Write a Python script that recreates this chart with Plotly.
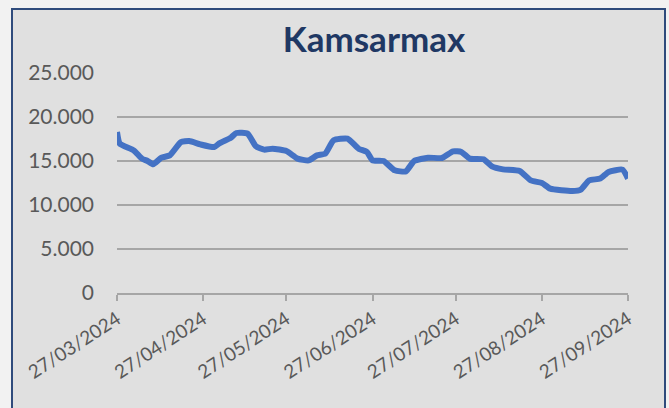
import plotly.graph_objects as go

dates = ["2024-03-27", "2024-03-28", "2024-04-02", "2024-04-05", "2024-04-07", "2024-04-09",
         "2024-04-12", "2024-04-15", "2024-04-19", "2024-04-22", "2024-04-26", "2024-05-01",
         "2024-05-03", "2024-05-07", "2024-05-09", "2024-05-13", "2024-05-16", "2024-05-19",
         "2024-05-22", "2024-05-27", "2024-05-31", "2024-06-04", "2024-06-07", "2024-06-10",
         "2024-06-13", "2024-06-18", "2024-06-22", "2024-06-25", "2024-06-27", "2024-07-01",
         "2024-07-05", "2024-07-09", "2024-07-12", "2024-07-17", "2024-07-22", "2024-07-26",
         "2024-07-29", "2024-08-01", "2024-08-06", "2024-08-09", "2024-08-13", "2024-08-19",
         "2024-08-23", "2024-08-27", "2024-08-30", "2024-09-07", "2024-09-10", "2024-09-13",
         "2024-09-17", "2024-09-20", "2024-09-25", "2024-09-27"]
values = [18300, 16970, 16210, 15270, 15000, 14620,
          15380, 15640, 17150, 17270, 16890, 16590,
          17040, 17650, 18180, 18110, 16670, 16290,
          16400, 16130, 15270, 15070, 15640, 15840,
          17350, 17540, 16400, 16020, 15070, 15000,
          13940, 13820, 15000, 15380, 15340, 16100,
          16020, 15270, 15190, 14390, 14050, 13860,
          12800, 12500, 11860, 11590, 11750, 12800,
          13000, 13750, 14020, 13000]

tick_dates = ["2024-03-27", "2024-04-27", "2024-05-27", "2024-06-27",
              "2024-07-27", "2024-08-27", "2024-09-27"]
tick_labels = ["27/03/2024", "27/04/2024", "27/05/2024", "27/06/2024",
               "27/07/2024", "27/08/2024", "27/09/2024"]
y_ticks = [0, 5000, 10000, 15000, 20000, 25000]
title_text = "Kamsarmax"

W, H = 669, 408
ml, mr, mt, mb = 117, 41, 73, 115
pw, ph = W - ml - mr, H - mt - mb


def px_x(p):
    return (p - ml) / pw


def px_y(p):
    return (H - mb - p) / ph


fig = go.Figure()
fig.add_trace(go.Scatter(
    x=dates, y=values, mode="lines",
    line=dict(color="#4472C4", width=6, shape="spline", smoothing=0.5),
    hoverinfo="skip", showlegend=False,
))

fig.add_shape(type="rect", xref="paper", yref="paper",
              x0=px_x(12), x1=px_x(665), y0=px_y(430), y1=px_y(9),
              fillcolor="#E0E0E0", line=dict(color="#2F4B7C", width=2),
              layer="below")

fig.update_layout(
    width=W, height=H,
    margin=dict(l=ml, r=mr, t=mt, b=mb),
    paper_bgcolor="#F2F2F2",
    plot_bgcolor="rgba(0,0,0,0)",
    separators=",.",
    font=dict(family="Lato", color="#595959", size=20),
    title=dict(text="<b>" + title_text + "</b>", x=(374 - ml) / pw, xref="paper",
               xanchor="center", y=1 - 40 / H, yref="container", yanchor="middle",
               font=dict(family="Lato", size=35, color="#1F3864")),
    xaxis=dict(
        type="date", range=[tick_dates[0], tick_dates[-1]],
        tickvals=tick_dates, ticktext=tick_labels, tickangle=-33,
        showgrid=False, showline=True, linecolor="#A6A6A6", linewidth=1.5,
        ticks="outside", ticklen=6, tickcolor="#A6A6A6", tickwidth=1.5,
        tickfont=dict(size=19, color="#595959"), zeroline=False,
    ),
    yaxis=dict(
        range=[0, 25000], tickvals=y_ticks, tickformat=",d",
        showgrid=True, gridcolor="#A6A6A6", gridwidth=1.5,
        zeroline=False, showline=False, ticks="",
        tickfont=dict(size=21, color="#595959"), ticklabelstandoff=22,
    ),
)

fig.write_html(
    "out.html",
    config={"displayModeBar": False},
    post_script="document.body.style.margin='0px';document.body.style.background='#F2F2F2';",
)
